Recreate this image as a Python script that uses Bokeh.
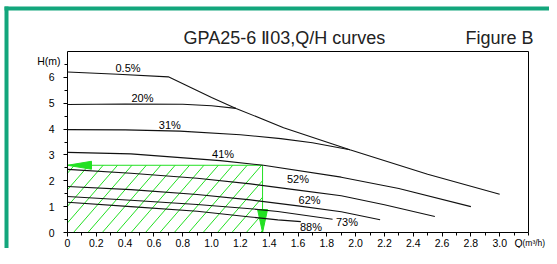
from bokeh.plotting import figure
from bokeh.models import FixedTicker, Label, Range1d, BoxAnnotation, LinearAxis
from bokeh.embed import file_html
from bokeh.resources import INLINE

# ---- tick data ----
x_major = [0.0, 0.2, 0.4, 0.6, 0.8, 1.0, 1.2, 1.4, 1.6, 1.8, 2.0, 2.2, 2.4, 2.6, 2.8, 3.0]
x_labels = ["0", "0.2", "0.4", "0.6", "0.8", "1.0", "1.2", "1.4", "1.6", "1.8", "2.0",
            "2.2", "2.4", "2.6", "2.8", "3.0"]
x_minor = [0.1, 0.3, 0.5, 0.7, 0.9, 1.1, 1.3, 1.5, 1.7, 1.9, 2.1, 2.3, 2.5, 2.7, 2.9, 3.1, 3.2]
y_major = [0, 1, 2, 3, 4, 5, 6]
y_labels = ["0", "1", "2", "3", "4", "5", "6"]
y_minor = [0.5, 1.5, 2.5, 3.5, 4.5, 5.5, 6.5]

# ---- Q/H curves ----
q_05 = [0.0, 0.35, 0.70, 1.0, 1.17, 1.5, 1.96, 2.5, 3.0]
h_05 = [6.21, 6.12, 6.02, 5.22, 4.80, 4.05, 3.20, 2.25, 1.48]
q_20 = [0.0, 0.4, 0.8, 1.0, 1.17]
h_20 = [4.95, 4.97, 4.96, 4.90, 4.80]
q_31 = [0.0, 0.4, 0.78, 1.2, 1.48, 1.7, 1.96]
h_31 = [3.98, 3.97, 3.92, 3.78, 3.63, 3.47, 3.20]
q_41 = [0.0, 0.44, 1.06, 1.36, 1.9, 2.3, 2.8]
h_41 = [3.10, 3.04, 2.78, 2.60, 2.14, 1.70, 1.00]
q_52 = [0.0, 0.44, 0.9, 1.27, 1.6, 1.9, 2.2, 2.55]
h_52 = [2.44, 2.29, 2.10, 1.88, 1.64, 1.42, 1.07, 0.62]
q_62 = [0.0, 0.44, 0.9, 1.27, 1.6, 1.9, 2.17]
h_62 = [1.78, 1.66, 1.47, 1.26, 1.03, 0.80, 0.49]
q_73 = [0.0, 0.44, 0.9, 1.27, 1.46, 1.84]
h_73 = [1.39, 1.25, 1.08, 0.92, 0.81, 0.51]
q_88 = [0.0, 0.44, 0.9, 1.27, 1.46, 1.62]
h_88 = [1.17, 1.00, 0.82, 0.60, 0.49, 0.42]

curves = [(q_05, h_05), (q_20, h_20), (q_31, h_31), (q_41, h_41),
          (q_52, h_52), (q_62, h_62), (q_73, h_73), (q_88, h_88)]

curve_names = ["0.5%", "20%", "31%", "41%", "52%", "62%", "73%", "88%"]
label_q = [0.42, 0.52, 0.71, 1.08, 1.60, 1.68, 1.94, 1.69]
label_h = [6.36, 5.20, 4.14, 3.02, 2.05, 1.24, 0.39, 0.23]

# operating region (hatched)
duty_q = 1.354
duty_h = 2.6

GREEN = "#22e022"
TEAL = "#13a67c"
FONT = "Liberation Sans"

W, H = 549, 248
ML, MR, MT, MB = 67, 21, 51, 16          # plot-box margins inside the canvas
XMAX, YMAX = 3.2, 7.0
px_q = (W - ML - MR) / XMAX
px_h = (H - MT - MB) / YMAX

def qx(px):   # canvas px (from left) -> Q
    return (px - ML) / px_q

def hy(py):   # canvas px (from top) -> H
    return (H - MB - py) / px_h

p = figure(width=W, height=H, x_range=Range1d(qx(0), qx(W)), y_range=Range1d(hy(H), hy(0)),
           output_backend="svg", toolbar_location=None, min_border=0,
           x_axis_location=None, y_axis_location=None)
p.grid.visible = False
p.outline_line_color = None
p.background_fill_color = "white"
p.border_fill_color = "white"

xax = LinearAxis(fixed_location=0, bounds=(0, XMAX))
yax = LinearAxis(fixed_location=0, bounds=(0, YMAX))
p.add_layout(xax, "below")
p.add_layout(yax, "left")

for ax in (xax, yax):
    ax.axis_line_color = "black"
    ax.major_tick_line_color = "black"
    ax.minor_tick_line_color = "black"
    ax.major_tick_in = 0
    ax.major_tick_out = 4
    ax.minor_tick_in = 0
    ax.minor_tick_out = 3
    ax.major_label_text_font = FONT
    ax.major_label_text_font_size = "10.5px"
    ax.major_label_text_color = "black"

xax.ticker = FixedTicker(ticks=x_major, minor_ticks=x_minor)
xax.major_label_overrides = {t: l for t, l in zip(x_major, x_labels)}
xax.major_label_standoff = 2
yax.ticker = FixedTicker(ticks=y_major, minor_ticks=y_minor)
yax.major_label_overrides = {t: l for t, l in zip(y_major, y_labels)}
yax.major_label_standoff = 9

# box top and right edges
p.line([0, XMAX, XMAX], [YMAX, YMAX, 0], line_color="black", line_width=1)

# hatched duty area: diagonal lines clipped to the duty rectangle
spacing_px, slope_px, phase_px = 14.4, 1.15, 6.0
box_w, box_h = duty_q * px_q, duty_h * px_h
x0s, y0s, x1s, y1s = [], [], [], []
k = -int(box_h / slope_px / spacing_px) - 1
while True:
    foot = phase_px + k * spacing_px          # px from the left edge at the bottom
    if foot > box_w:
        break
    xa, ya = foot, 0.0
    if xa < 0:
        xa, ya = 0.0, -foot * slope_px
    xb, yb = foot + box_h / slope_px, box_h
    if xb > box_w:
        xb, yb = box_w, (box_w - foot) * slope_px
    if ya < box_h and xa < box_w and xb > xa:
        x0s.append(xa / px_q); y0s.append(ya / px_h)
        x1s.append(xb / px_q); y1s.append(yb / px_h)
    k += 1
p.segment(x0s, y0s, x1s, y1s, line_color=GREEN, line_width=1)
p.line([0, duty_q, duty_q], [duty_h, duty_h, 0], line_color=GREEN, line_width=1)
# arrow heads
aL, aW = 24 / px_q, 4 / px_h
p.patch([0, aL, aL], [duty_h, duty_h + aW, duty_h - aW], fill_color=GREEN, line_color=GREEN)
dL, dW = 23 / px_h, 5 / px_q
p.patch([duty_q, duty_q - dW, duty_q + dW], [0, dL, dL], fill_color=GREEN, line_color=GREEN)

for q, h in curves:
    p.line(q, h, line_color="#111111", line_width=1.1)

for name, lq, lh in zip(curve_names, label_q, label_h):
    p.add_layout(Label(x=lq, y=lh, text=name, text_align="center", text_baseline="middle",
                       text_font=FONT, text_font_size="11px", text_color="black"))

# axis titles
p.add_layout(Label(x=qx(60), y=hy(60), text="H(m)", text_align="right", text_baseline="middle",
                   text_font=FONT, text_font_size="10.5px", text_color="black"))
p.add_layout(Label(x=qx(514), y=hy(242), text="Q", text_align="left",
                   text_baseline="middle", text_font=FONT, text_font_size="10.5px",
                   text_color="black"))
p.add_layout(Label(x=qx(522), y=hy(242), text="(m³/h)", text_align="left",
                   text_baseline="middle", text_font=FONT, text_font_size="8.5px",
                   text_color="black"))

# titles
p.add_layout(Label(x=qx(183), y=hy(37), text="GPA25-6 Ⅱ03,Q/H curves",
                   text_align="left", text_baseline="alphabetic", text_font=FONT,
                   text_font_size="18px", text_color="#222222"))
p.add_layout(Label(x=qx(465), y=hy(37), text="Figure B",
                   text_align="left", text_baseline="alphabetic", text_font=FONT,
                   text_font_size="18px", text_color="#222222"))

# green frame (top and left bars)
p.add_layout(BoxAnnotation(left=qx(4), right=qx(8), bottom=hy(H), top=hy(6),
                           fill_color=TEAL, fill_alpha=1, line_color=None))
p.add_layout(BoxAnnotation(left=qx(4), right=qx(W), bottom=hy(10), top=hy(6),
                           fill_color=TEAL, fill_alpha=1, line_color=None))

open("out.html", "w").write(file_html(p, INLINE))
